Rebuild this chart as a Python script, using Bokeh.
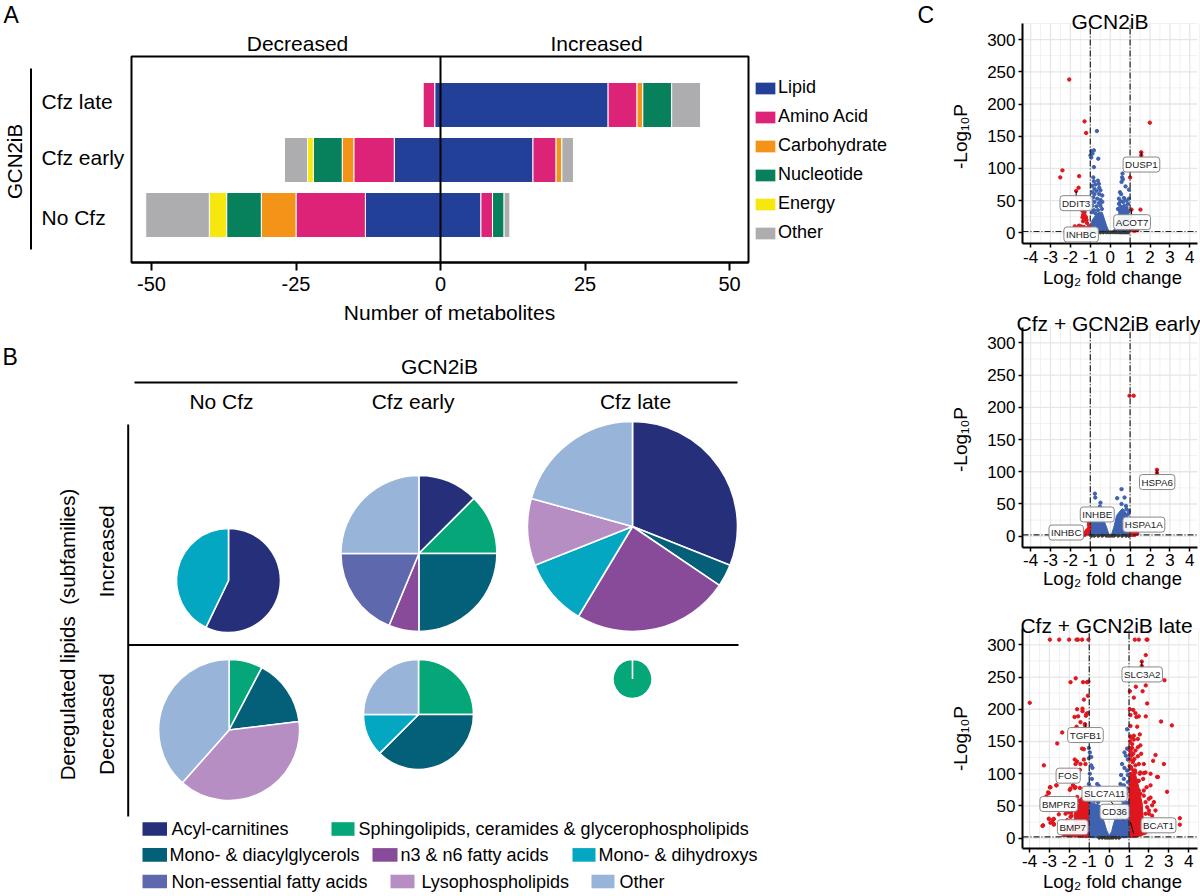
from math import pi
from bokeh.embed import file_html
from bokeh.layouts import column, row
from bokeh.models import FixedTicker, Label, Legend, LegendItem, LinearAxis, Range1d
from bokeh.plotting import figure
from bokeh.resources import INLINE

FONT = "Liberation Sans"

# ---------- Panel A data (order: No Cfz, Cfz early, Cfz late) ----------
categories = ["No Cfz", "Cfz early", "Cfz late"]
classes = ["Lipid", "Amino Acid", "Carbohydrate", "Nucleotide", "Energy", "Other"]
class_colors = ["#234099", "#dd2378", "#f39317", "#07805c", "#f6e80f", "#adadb0"]
inc_lipid = [7, 16, 29]
inc_amino = [2, 4, 5]
inc_carb = [0, 1, 1]
inc_nucl = [2, 0, 5]
inc_energy = [0, 0, 0]
inc_other = [1, 2, 5]
dec_lipid = [13, 8, 1]
dec_amino = [12, 7, 2]
dec_carb = [6, 2, 0]
dec_nucl = [6, 5, 0]
dec_energy = [3, 1, 0]
dec_other = [11, 4, 0]
a_ticks = [-50, -25, 0, 25, 50]

# ---------- Panel B data (lipid counts per subfamily) ----------
subfamilies = ["Acyl-carnitines", "Sphingolipids, ceramides & glycerophospholipids",
               "Mono- & diacylglycerols", "n3 & n6 fatty acids", "Mono- & dihydroxys",
               "Non-essential fatty acids", "Lysophospholipids", "Other"]
sub_colors = ["#252f7a", "#05a678", "#045f78", "#874b99", "#03a7c1", "#5e69ad", "#b78ec3", "#98b5d9"]
pie_inc_nocfz = [4, 0, 0, 0, 3, 0, 0, 0]
pie_inc_early = [2, 2, 4, 1, 0, 3, 0, 4]
pie_inc_late = [9, 0, 1, 7, 3, 0, 3, 6]
pie_dec_nocfz = [0, 1, 2, 0, 0, 0, 5, 5]
pie_dec_early = [0, 2, 3, 0, 1, 0, 0, 2]
pie_dec_late = [0, 1, 0, 0, 0, 0, 0, 0]

# ---------- Panel C data: individually readable points ----------
c_xticks = [-4, -3, -2, -1, 0, 1, 2, 3, 4]
c_yticks = [0, 50, 100, 150, 200, 250, 300]

gcn_red_x = [-2.06, -1.29, 1.99, -1.21, 1.56, 1.56, -2.40, -2.51, -1.56, 1.0, -1.59, -1.71, 1.52, 1.07, -1.39, -1.29, -1.36, -1.26, -1.39, -1.29, -1.19, -1.36, -1.22, -1.16, -1.78, -1.57, -1.46, -1.32, -1.07, -1.66, -1.16, -1.04, 1.11, 1.22, 1.36, 1.02, 1.16]
gcn_red_y = [238, 173, 171, 155, 125, 120, 97, 86, 88, 86, 70, 65, 36, 36, 34, 32, 28, 26, 24, 22, 20, 18, 24, 15, 10, 11, 10, 9, 10, 7, 7, 6, 4, 3, 4, 6, 5]
gcn_blue_x = [-.67, -.94, -.82, -.99, -.89, -.95, -.6, -.82, -.85, -.82, -.62, -.57, -.74, -.9, -.79, -.55, -.69, -.49, -.92, -.79, -.55, -.4, -.85, -.65, -.49, -.95, -.79, -.57, -.4, -.9, -.69, -.49, -.82, -.62, -.42, -.92, -.74,
              .62, .6, .64, .57, .77, .94, .49, .55, .94, .44, .69, .82, .52, .65, .89, .44, .72, .52, .82, .6, .39, .94, .49, .69]
gcn_blue_y = [158, 127, 128, 120, 123, 117, 115, 102, 86, 80, 81, 76, 75, 73, 68, 70, 65, 66, 63, 60, 60, 58, 55, 53, 51, 50, 48, 46, 48, 42, 41, 42, 35, 35, 37, 32, 30,
              92, 86, 83, 79, 72, 67, 63, 60, 53, 53, 54, 50, 49, 48, 45, 45, 42, 41, 39, 37, 37, 34, 34, 32]
gcn_massL_x = [-.99, -1.0, -.9, -.74, -.57, -.4, -.32, -.18, -.05]
gcn_massL_y = [1, 11, 20, 27, 32, 32, 24, 11, 1]
gcn_massR_x = [.1, .27, .39, .47, .6, .85, .95, .95]
gcn_massR_y = [1, 9, 24, 35, 42, 40, 24, 1]
gcn_ns_x = [-.9, -.7, -.5, -.35, -.2, -.1, 0, .1, .2, .3, .4, .5, .6, .7, .8, .9]
gcn_ns_y = [.5, .5, .6, .6, .7, .8, .8, .8, .8, .7, .7, .6, .6, .6, .5, .5]

early_red_x = [2.35, 2.35, .97, 1.18, -1.07, -1.07, -1.02, -1.1, -1.19, -1.32, -1.24, -1.16, -1.29, -1.07, -1.1, 1.02, 1.14, 1.27, 1.36, 1.11, 1.22]
early_red_y = [103, 98, 218, 218, 21, 17, 13, 11, 8, 4, 5, 4, 2, 4, 9, 5, 4, 6, 4, 2, 2]
early_blue_x = [-.77, -.75, -.49, -.52, .57, .35, .57, .72, .79, .94, .89, .82]
early_blue_y = [66, 60, 52, 46, 73, 59, 50, 60, 47, 39, 34, 42]
early_massL_x = [-.97, -.97, -.8, -.5, -.35, -.18, -.05]
early_massL_y = [1, 22, 27, 29, 27, 14, 1]
early_massR_x = [.05, .18, .32, .49, .62, .72, .85, .95, .95]
early_massR_y = [1, 14, 32, 39, 43, 40, 32, 19, 1]
early_ns_x = [-.95, -.8, -.6, -.4, -.2, -.1, 0, .1, .2, .4, .6, .8, .95]
early_ns_y = [.5, .6, .6, .7, .8, .8, .8, .8, .8, .7, .6, .6, .5]

late_red_x = [-2.98, -2.51, -2.01, -1.64, -1.57, -1.36, -1.04, 1.29, 1.49, 1.88, 1.92, 1.84, 1.64, 1.64, 2.78, -1.68, -1.94, -1.31, -1.11, -1.04, 1.34, 1.84, 1.04, 1.68, 1.24, -1.07, -1.27, -3.99, 1.91, -1.61, -1.34, -1.34, 1.04, 1.21, 1.32, -1.14, -1.07, -1.17, -1.74, -1.56, 1.07, 1.49, 1.37, 1.84, 2.61, 3.15, -1.44, -1.22, -1.21, -1.64, 1.07, 1.41, -2.36, 1.54, 1.24, 1.11,
              -2.61, -1.36, -1.27, -3.28, -1.73, -1.61, -1.27, -1.44, -1.69, -1.19, -2.03, -1.47, -2.65, -2.98, -1.81, -1.94, -1.69, -3.07, -3.15, -1.61, -1.52, -1.94, -1.78, -1.39, -1.27, -1.44, -1.27, -1.64, -1.47, -1.89, -2.53, -2.81, -3.03, -2.11, -2.95, -2.78, -3.35, -2.4, -2.2, -1.9, -1.7,
              2.33, 2.21, 2.75, 2.45, 2.91, 3.55, 3.55, 1.57, 1.44, 1.32, 1.61, 1.21, 1.44, 1.27, 1.74, 1.49, 1.32, 1.83, 1.54, 2.08, 1.71, 1.44, 2.08, 1.88, 1.49, 1.74, 1.99, 1.83, 1.57, 2.16, 2.0, 1.83, 2.16, 1.24, 1.16, 1.07, 1.44, 1.1, 1.2, 1.05, 1.3,
              -2.95, -2.65, -1.81, -3.03, -1.98, -1.72, -1.47, -1.49, -1.36, -3.03, -2.78, -2.86, -2.78, -3.32, -2.03, -1.91, -2.19, -1.94,
              1.32, 1.57, 1.74, 2.41, 1.49, 1.32, 1.74, 1.57, 2.08, 2.25, 1.91, 2.0, 2.0, 2.33,
              1.02, 1.08, 1.12, 1.05, 1.18, 1.03, 1.1, 1.22, 1.05, 1.15]
late_red_y = [308, 308, 308, 308, 308, 308, 308, 308, 308, 308, 308, 284, 274, 267, 245, 248, 242, 242, 242, 243, 235, 237, 228, 228, 218, 221, 215, 210, 209, 200, 201, 197, 200, 199, 194, 193, 194, 190, 188, 189, 191, 189, 188, 189, 181, 175, 180, 177, 175, 173, 174, 173, 164, 161, 159, 156,
              147, 139, 138, 113, 122, 119, 122, 115, 115, 115, 104, 106, 82, 79, 82, 77, 79, 71, 65, 64, 58, 53, 51, 53, 56, 48, 48, 43, 41, 35, 37, 29, 30, 28, 24, 21, 19, 15, 12, 20, 14,
              129, 120, 115, 95, 72, 31, 21, 144, 141, 136, 131, 131, 127, 123, 115, 115, 113, 102, 100, 100, 92, 89, 82, 79, 74, 66, 61, 56, 53, 51, 43, 38, 35, 153, 146, 158, 154, 110, 120, 130, 105,
              79, 82, 82, 70, 75, 78, 78, 58, 61, 30, 30, 25, 22, 20, 40, 40, 38, 33,
              102, 102, 101, 95, 89, 84, 74, 69, 63, 56, 48, 38, 27, 43,
              140, 135, 128, 122, 118, 112, 108, 105, 150, 140]
late_blue_x = [-1.02, -.97, -.9, -1.02, -.9, -.84, -.97, -.87, -.6, -1.02, -.94, -.52, .9, .77, .99, .84, .94, .65, .77, .9, .6, .74, .94, .57, .74, .9, .65, .84, .94, .9, .55, .7, -.95, -.75, -.55]
late_blue_y = [140, 133, 126, 124, 113, 109, 100, 92, 84, 84, 79, 81, 139, 133, 138, 128, 122, 115, 109, 105, 98, 92, 98, 84, 82, 77, 70, 69, 87, 169, 62, 58, 60, 58, 56]
late_massU_x = [-1, -1, -.8, -.55, -.45, -.35, -.3, -.22, -.12, 0, .12, .2, .3, .4, .5, .75, 1, 1, .6, .2, 0, -.2, -.6]
late_massU_y = [1, 58, 54, 52, 50, 38, 30, 22, 12, 4, 10, 20, 30, 38, 50, 56, 58, 1, .8, .3, .2, .3, .8]
late_redL_x = [-1, -2.4, -2.0, -1.75, -1.75, -1.45, -1.05, -1]
late_redL_y = [1, 3, 8, 15, 40, 58, 62, 62]
late_redR_x = [1, 1.4, 1.9, 1.72, 1.66, 1.49, 1.32, 1.15, 1]
late_redR_y = [1, 2, 7, 27, 53, 79, 100, 102, 102]
late_ns_x = [-.5, -.35, -.2, -.1, 0, .1, .2, .35, .5]
late_ns_y = [.8, .8, .8, .8, .8, .8, .8, .8, .8]

# gene labels
gcn_genes = ["DUSP1", "DDIT3", "ACOT7", "INHBC"]
gcn_gene_x = [1.57, -1.71, 1.1, -1.46]
gcn_gene_y = [106, 46, 16.5, -2.6]
early_genes = ["HSPA6", "INHBE", "HSPA1A", "INHBC"]
early_gene_x = [2.36, -.65, 1.69, -2.21]
early_gene_y = [84, 33.7, 18, 5.7]
late_genes = ["SLC3A2", "TGFB1", "FOS", "SLC7A11", "CD36", "BMPR2", "BMP7", "BCAT1"]
late_gene_x = [1.66, -1.19, -2.06, -.23, .27, -2.53, -1.83, 2.48]
late_gene_y = [254, 160, 97, 69, 41, 53, 17, 20]

RED, BLUE, NS = "#e0161f", "#3f62b0", "#3a3a3a"


class Panel:
    """A figure whose plotting frame fills its box; pixel helper for layout items."""

    def __init__(self, left, top, w, h, x0, x1, y0, y1):
        self.left, self.top, self.w, self.h = left, top, w, h
        self.x0, self.x1, self.y0, self.y1 = x0, x1, y0, y1
        self.fig = figure(width=w, height=h, output_backend="svg", toolbar_location=None,
                          x_range=Range1d(x0, x1), y_range=Range1d(y0, y1),
                          x_axis_type=None, y_axis_type=None, min_border=0, outline_line_color=None)
        self.fig.grid.visible = False

    def X(self, px):
        return self.x0 + (px - self.left) / self.w * (self.x1 - self.x0)

    def Y(self, py):
        return self.y0 + (self.top + self.h - py) / self.h * (self.y1 - self.y0)

    def text(self, text, px, py, size, align="center", baseline="middle", angle=0, color="black"):
        self.fig.add_layout(Label(x=self.X(px), y=self.Y(py), text=text, text_font=FONT,
                                  text_font_size=f"{size}px", text_align=align,
                                  text_baseline=baseline, angle=angle, text_color=color))

    def rule(self, px0, py0, px1, py1, width=2, color="black", dash="solid"):
        self.fig.line([self.X(px0), self.X(px1)], [self.Y(py0), self.Y(py1)],
                      line_color=color, line_width=width, line_dash=dash)


def style_axis(ax, ticks, size, tick_out, tick_w, standoff):
    ax.major_label_overrides = {t: str(t) for t in ticks}
    ax.major_label_text_font = FONT
    ax.major_label_text_font_size = f"{size}px"
    ax.major_label_text_color = "black"
    ax.major_tick_out = tick_out
    ax.major_tick_in = 0
    ax.major_tick_line_width = tick_w
    ax.major_tick_line_color = "black"
    ax.minor_tick_line_color = None
    ax.axis_line_width = 2
    ax.axis_line_color = "black"
    ax.major_label_standoff = standoff


# ---------- Panel A ----------
PA = Panel(0, 0, 900, 340, (0 - 440) / 5.78, (900 - 440) / 5.78, (214.5 - 340) / 55, 214.5 / 55)
A = PA.fig
inc_series = [inc_lipid, inc_amino, inc_carb, inc_nucl, inc_energy, inc_other]
dec_series = [dec_lipid, dec_amino, dec_carb, dec_nucl, dec_energy, dec_other]
ypos = list(range(len(categories)))
legend_items = []
cum_i = [0, 0, 0]
cum_d = [0, 0, 0]
for name, color, iv, dv in zip(classes, class_colors, inc_series, dec_series):
    ys, ls, rs = [], [], []
    for k in ypos:
        if iv[k]:
            ys.append(k); ls.append(cum_i[k]); rs.append(cum_i[k] + iv[k])
        if dv[k]:
            ys.append(k); ls.append(-cum_d[k] - dv[k]); rs.append(-cum_d[k])
        cum_i[k] += iv[k]
        cum_d[k] += dv[k]
    rr = A.hbar(y=ys, left=ls, right=rs, height=0.818, fill_color=color, line_color="white", line_width=1)
    legend_items.append(LegendItem(label=name, renderers=[rr]))
A.quad(left=PA.X(131), right=PA.X(748), bottom=PA.Y(262), top=PA.Y(56), fill_color=None,
       line_color="black", line_width=2)
A.line([0, 0], [PA.Y(262), PA.Y(56)], line_color="black", line_width=2)
xa = LinearAxis(fixed_location=PA.Y(262), bounds=(PA.X(131), PA.X(748)),
                ticker=FixedTicker(ticks=a_ticks))
style_axis(xa, a_ticks, 20, 8, 2, 6)
A.add_layout(xa, "below")
A.add_layout(Legend(items=legend_items, location=(752, 97), border_line_color=None,
                    background_fill_alpha=0, glyph_width=26, glyph_height=16, label_height=13,
                    label_standoff=0, spacing=8, padding=0, margin=0,
                    label_text_font=FONT, label_text_font_size="18px", label_text_color="black"))
PA.text("Decreased", 297, 43, 21)
PA.text("Increased", 596, 43, 21)
PA.text("Number of metabolites", 449, 312, 21)
PA.text("A", 3, 14, 23, align="left")
PA.text("GCN2iB", 14, 161, 20.5, angle=pi / 2)
for cat, py in zip(categories, [216.5, 157, 101]):
    PA.text(cat, 41, py, 21, align="left")
PA.rule(30.5, 68, 30.5, 249)

# ---------- Panel B ----------
PB = Panel(0, 340, 900, 556, 0, 900, 0, 556)
B = PB.fig


def pie(vals, cx, cy, radius):
    total = sum(vals)
    cum = 0
    for v, c in zip(vals, sub_colors):
        if not v:
            continue
        sweep = min(v / total, 0.9995)
        start = pi / 2 - 2 * pi * cum / total
        B.wedge(x=[PB.X(cx)], y=[PB.Y(cy)], radius=radius, start_angle=start,
                end_angle=start - 2 * pi * sweep, direction="clock",
                fill_color=c, line_color="white", line_width=1.6)
        cum += v


pie(pie_inc_nocfz, 228, 580, 52)
pie(pie_inc_early, 418.4, 553, 78)
pie(pie_inc_late, 632, 526, 105)
pie(pie_dec_nocfz, 228.6, 729.5, 70.5)
pie(pie_dec_early, 418, 714, 55)
pie(pie_dec_late, 632, 678.5, 19.5)
PB.rule(134, 382, 737, 382)
PB.rule(127.7, 424, 127.7, 816)
PB.rule(128, 644.4, 738, 644.4)
PB.text("B", 2, 356, 23, align="left")
PB.text("GCN2iB", 439, 365.5, 21)
PB.text("No Cfz", 221, 401, 21)
PB.text("Cfz early", 412.6, 401, 21)
PB.text("Cfz late", 635, 401, 21)
PB.text("Increased", 106, 551, 21, angle=pi / 2)
PB.text("Decreased", 106, 723.6, 21, angle=pi / 2)
PB.text("Deregulated lipids \u00a0(subfamilies)", 67, 634, 20.5, angle=pi / 2)
legend_rows = [(142, 166.5, 171, 828.5), (331, 354, 358, 828.5),
               (142, 166.5, 169, 854.4), (372, 397, 400, 854.4), (572, 595, 598, 854.4),
               (142, 166.5, 171, 881), (390, 414, 421, 881), (591, 614, 619, 881)]
for name, color, (x0, x1, tx, py) in zip(subfamilies, sub_colors, legend_rows):
    B.quad(left=PB.X(x0), right=PB.X(x1), bottom=PB.Y(py + 6.8), top=PB.Y(py - 6.8), fill_color=color, line_color=None)
    PB.text(name, tx, py, 18, align="left")


# ---------- Panel C ----------
def volcano(top, h, x_zero, x_scale, y_zero, y_scale, ft, fb, title, title_px, title_py, xl_py, yl_py,
            masses, red, blue, ns, genes, leaders):
    P = Panel(900, top, 300, h, (900 - x_zero) / x_scale, (1200 - x_zero) / x_scale,
              (y_zero - (top + h)) / y_scale, (y_zero - top) / y_scale)
    p = P.fig
    fl, fr, yb, yt = P.X(1022), P.X(1197), P.Y(fb), P.Y(ft)
    minor_x = [v + .5 for v in c_xticks]
    minor_y = [v + 25 for v in c_yticks]
    p.segment(minor_x, yb, minor_x, yt, line_color="#f1f1f1", line_width=1)
    p.segment(fl, minor_y, fr, minor_y, line_color="#f1f1f1", line_width=1)
    p.segment(c_xticks, yb, c_xticks, yt, line_color="#e6e6e6", line_width=1.3)
    p.segment(fl, c_yticks, fr, c_yticks, line_color="#e6e6e6", line_width=1.3)
    for mx, my, col in masses:
        p.patch(mx, my, fill_color=col, line_color=col, line_width=1)
    p.scatter(ns[0], ns[1], size=3, color=NS)
    p.scatter(blue[0], blue[1], size=3.4, color=BLUE)
    p.scatter(red[0], red[1], size=3.4, color=RED)
    dash = [6, 2, 1, 2]
    for v in (-1, 1):
        p.line([v, v], [yb, yt], line_color="#222222", line_width=1.2, line_dash=dash)
    p.line([fl, fr], [2, 2], line_color="#222222", line_width=1.2, line_dash=dash)
    for (x0, y0, x1, y1) in leaders:
        p.segment(x0, y0, x1, y1, line_color="black", line_width=1)
    ax_x = LinearAxis(fixed_location=yb, bounds=(fl, fr), ticker=FixedTicker(ticks=c_xticks))
    ax_y = LinearAxis(fixed_location=fl, bounds=(yb, yt), ticker=FixedTicker(ticks=c_yticks))
    style_axis(ax_x, c_xticks, 17, 4, 1.5, 3)
    style_axis(ax_y, c_yticks, 17, 4, 1.5, 3)
    p.add_layout(ax_x, "below")
    p.add_layout(ax_y, "left")
    for t, gx, gy in genes:
        p.add_layout(Label(x=gx, y=gy, text=t, text_font=FONT, text_font_size="9.8px", text_color="#222222",
                           text_align="center", text_baseline="middle",
                           background_fill_color="white", background_fill_alpha=0.92,
                           border_line_color="#888888", border_line_width=1, border_radius=3,
                           padding=2))
    P.text(title, title_px, title_py, 21, baseline="alphabetic")
    P.text("Log\u2082 fold change", 1112, xl_py, 18.5)
    P.text("-Log\u2081\u2080P", 960, yl_py, 19, angle=pi / 2)
    return P


P1 = volcano(0, 300, 1109.7, 19.9, 232.3, .644, 23, 243, "GCN2iB", 1109.5, 21, 277, 136,
             [(gcn_massL_x, gcn_massL_y, BLUE), (gcn_massR_x, gcn_massR_y, BLUE)],
             (gcn_red_x, gcn_red_y), (gcn_blue_x, gcn_blue_y), (gcn_ns_x, gcn_ns_y),
             list(zip(gcn_genes, gcn_gene_x, gcn_gene_y)),
             [(1.56, 112, 1.56, 125), (-1.71, 52, -1.71, 65), (1.07, 22, 1.07, 36)])
P2 = volcano(300, 300, 1109.7, 19.9, 535.7, .6445, 326.7, 546.7, "Cfz + GCN2iB early", 1108, 323, 578, 439,
             [(early_massL_x, early_massL_y, BLUE), (early_massR_x, early_massR_y, BLUE)],
             (early_red_x, early_red_y), (early_blue_x, early_blue_y), (early_ns_x, early_ns_y),
             list(zip(early_genes, early_gene_x, early_gene_y)),
             [(2.35, 90, 2.35, 103)])
P3 = volcano(600, 296, 1108.65, 19.9, 837.7, .6447, 628.3, 847.7, "Cfz + GCN2iB late", 1106, 625, 881, 738,
             [(late_redL_x, late_redL_y, RED), (late_redR_x, late_redR_y, RED),
              (late_massU_x, late_massU_y, BLUE)],
             (late_red_x, late_red_y), (late_blue_x, late_blue_y), (late_ns_x, late_ns_y),
             list(zip(late_genes, late_gene_x, late_gene_y)),
             [(1.64, 262, 1.64, 274), (.07, 58.5, .7, 27.6), (1.07, 25, 1.23, 7), (-1.19, 168, -1.19, 178)])
P1.text("C", 917, 14, 23, align="left")

page = row(column(A, B, spacing=0), column(P1.fig, P2.fig, P3.fig, spacing=0), spacing=0)
open("out.html", "w").write(file_html(page, INLINE))
